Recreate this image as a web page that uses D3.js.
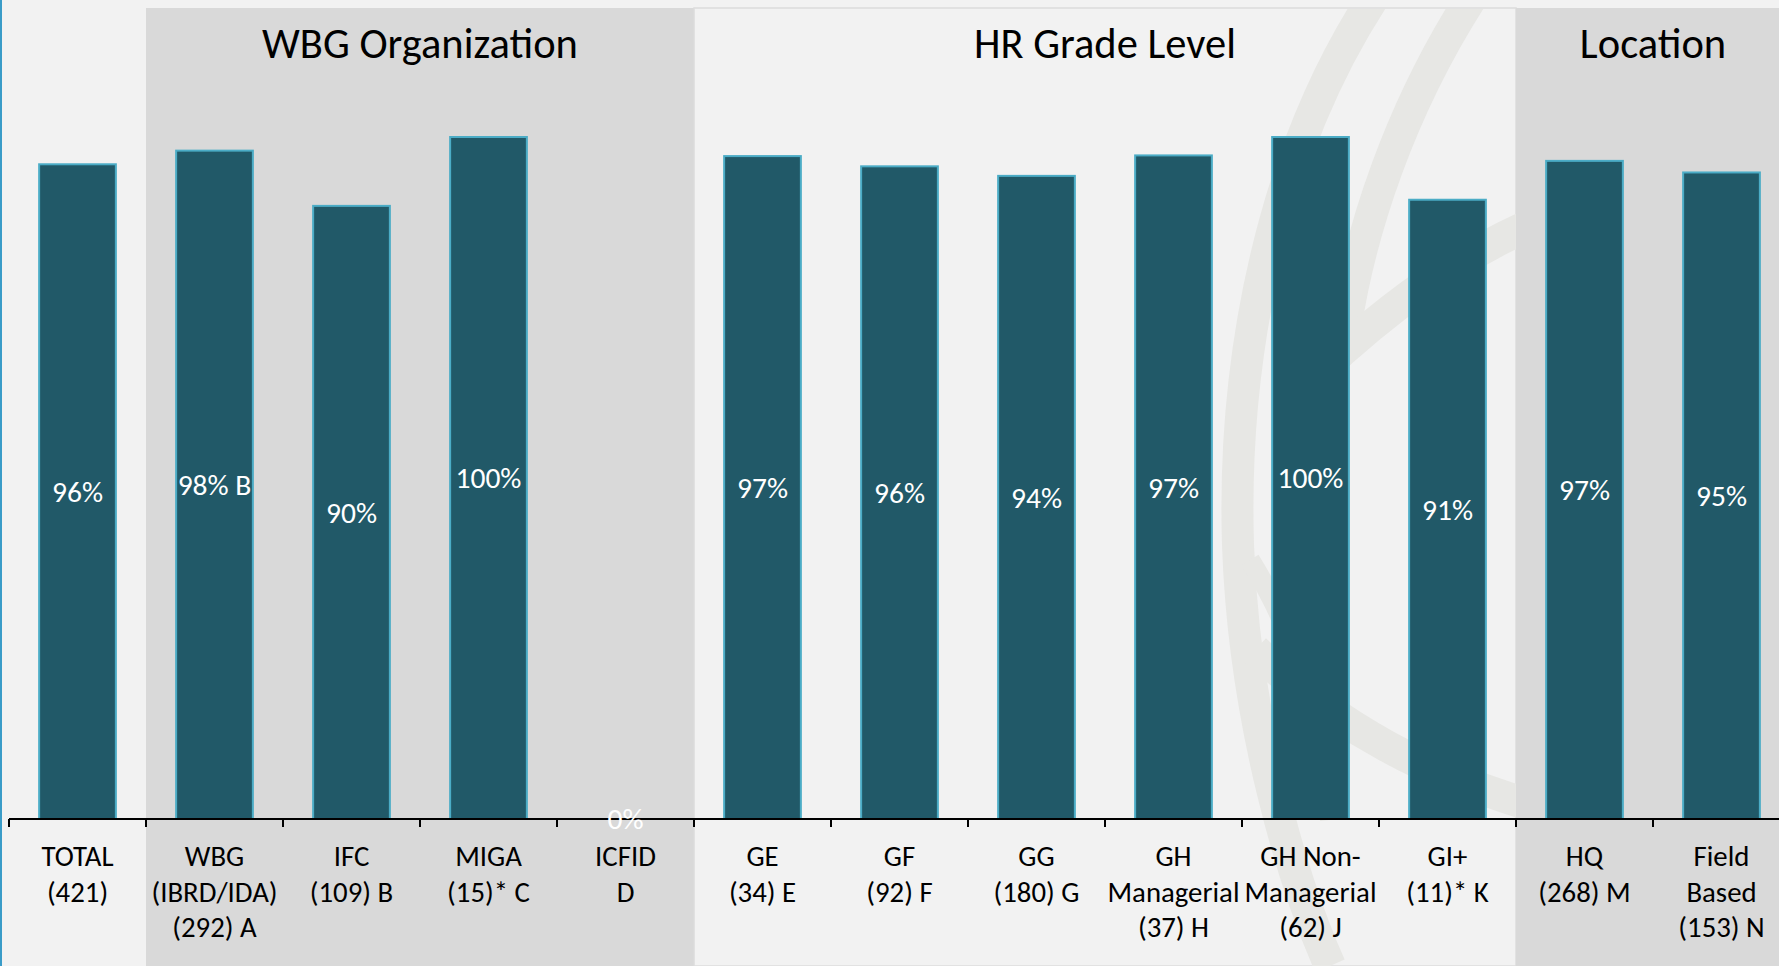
<!DOCTYPE html>
<html>
<head>
<meta charset="utf-8">
<script src="https://cdn.jsdelivr.net/npm/d3@7"></script>
<style>
  body { margin: 0; background: #f2f2f2; overflow: hidden; }
  svg { display: block; font-family: Carlito, Calibri, Lato, sans-serif; }
</style>
</head>
<body>
<div id="chart"></div>
<script>
const categories = [
    'TOTAL\n(421)', 'WBG\n(IBRD/IDA)\n(292) A', 'IFC\n(109) B', 'MIGA\n(15)* C', 'ICFID\nD',
    'GE\n(34) E', 'GF\n(92) F', 'GG\n(180) G', 'GH\nManagerial\n(37) H', 'GH Non-\nManagerial\n(62) J',
    'GI+\n(11)* K', 'HQ\n(268) M', 'Field\nBased\n(153) N'
];
const values = [0.96, 0.98, 0.899, 1.00, 0, 0.972, 0.957, 0.943, 0.973, 1.00, 0.908, 0.965, 0.948];
const valueLabels = ['96%', '98% B', '90%', '100%', '0%', '97%', '96%', '94%', '97%', '100%', '91%', '97%', '95%'];

const groupNames = ['WBG Organization', 'HR Grade Level', 'Location'];
const groupFirst = [1, 5, 11];
const groupLast = [4, 10, 12];

let size = { width: 1779, height: 966 };

let svg = d3.select('#chart').append('svg')
    .attr('width', size.width)
    .attr('height', size.height);

let xScale = d3.scaleBand()
    .domain(categories)
    .range([9, 1790]);

let yScale = d3.scaleLinear()
    .domain([0, 1])
    .range([819, 137]);

let panelTop = 8;

// background
svg.append('rect')
    .attr('width', size.width).attr('height', size.height)
    .attr('fill', '#f2f2f2');

// group panels
let panelFill = ['#d9d9d9', '#f2f2f2', '#d9d9d9'];
groupNames.forEach((g, i) => {
    let x0 = xScale(categories[groupFirst[i]]);
    let x1 = xScale(categories[groupLast[i]]) + xScale.bandwidth();
    svg.append('rect')
        .attr('x', x0).attr('y', panelTop)
        .attr('width', x1 - x0).attr('height', size.height - panelTop)
        .attr('fill', panelFill[i])
        .attr('stroke', i === 1 ? '#dcdcdc' : 'none')
        .attr('stroke-width', 1.5);

    if (i === 1) {
        // faint globe watermark behind the grade panel
        svg.append('clipPath').attr('id', 'wm-clip')
            .append('rect')
            .attr('x', x0).attr('y', panelTop + 1)
            .attr('width', x1 - x0).attr('height', size.height);
        let wm = svg.append('g').attr('clip-path', 'url(#wm-clip)')
            .attr('fill', 'none').attr('stroke', '#e7e7e4').attr('stroke-width', 32);
        wm.append('path').attr('d', 'M1372,0 C1275,150 1232,350 1238,545 C1244,720 1292,880 1330,966');
        wm.append('path').attr('d', 'M1470,0 C1400,110 1360,230 1345,330');
        wm.append('path').attr('d', 'M1290,400 C1370,320 1450,260 1530,225');
        wm.append('path').attr('d', 'M1255,650 C1340,730 1430,775 1530,805');
        wm.append('path').attr('d', 'M1250,560 C1300,640 1320,720 1330,820').attr('stroke-width', 20);
    }

    svg.append('text')
        .attr('x', (x0 + x1) / 2).attr('y', 58)
        .attr('text-anchor', 'middle')
        .attr('font-size', 42.5)
        .attr('fill', '#000')
        .text(g);
});

// left blue edge
svg.append('rect')
    .attr('x', 0).attr('y', 0).attr('width', 2).attr('height', size.height)
    .attr('fill', '#3a9cc8');

// bars
let barWidth = xScale.bandwidth() * 0.56;
let data = categories.map((c, i) => ({ cat: c, value: values[i], label: valueLabels[i] }));

svg.selectAll('.bar').data(data.filter(d => d.value > 0)).enter()
    .append('rect').attr('class', 'bar')
    .attr('x', d => xScale(d.cat) + (xScale.bandwidth() - barWidth) / 2)
    .attr('y', d => yScale(d.value))
    .attr('width', barWidth)
    .attr('height', d => yScale(0) - yScale(d.value))
    .attr('fill', '#215968')
    .attr('stroke', '#4bacc6')
    .attr('stroke-width', 2);

// axis
let axis = svg.append('g');
axis.append('line')
    .attr('x1', xScale.range()[0]).attr('x2', xScale.range()[1])
    .attr('y1', yScale(0)).attr('y2', yScale(0))
    .attr('stroke', '#000').attr('stroke-width', 2);

let tickXs = categories.map(c => xScale(c)).concat([xScale.range()[1]]);
axis.selectAll('.tick').data(tickXs).enter()
    .append('line').attr('class', 'tick')
    .attr('x1', d => d).attr('x2', d => d)
    .attr('y1', yScale(0)).attr('y2', yScale(0) + 8)
    .attr('stroke', '#000').attr('stroke-width', 2);

// value labels
svg.selectAll('.val').data(data).enter()
    .append('text').attr('class', 'val')
    .attr('x', d => xScale(d.cat) + xScale.bandwidth() / 2)
    .attr('y', d => (yScale(d.value) + yScale(0)) / 2)
    .attr('dy', '0.35em')
    .attr('text-anchor', 'middle')
    .attr('font-size', 29.5)
    .attr('fill', '#fff')
    .text(d => d.label);

// category labels
let catText = svg.selectAll('.cat').data(categories).enter()
    .append('text').attr('class', 'cat')
    .attr('text-anchor', 'middle')
    .attr('font-size', 28.8)
    .attr('fill', '#000');

catText.each(function(c) {
    let cx = xScale(c) + xScale.bandwidth() / 2;
    d3.select(this).selectAll('tspan').data(c.split('\n')).enter()
        .append('tspan')
        .attr('x', cx)
        .attr('y', (d, i) => 866 + i * 35.7)
        .text(d => d);
});
</script>
</body>
</html>
